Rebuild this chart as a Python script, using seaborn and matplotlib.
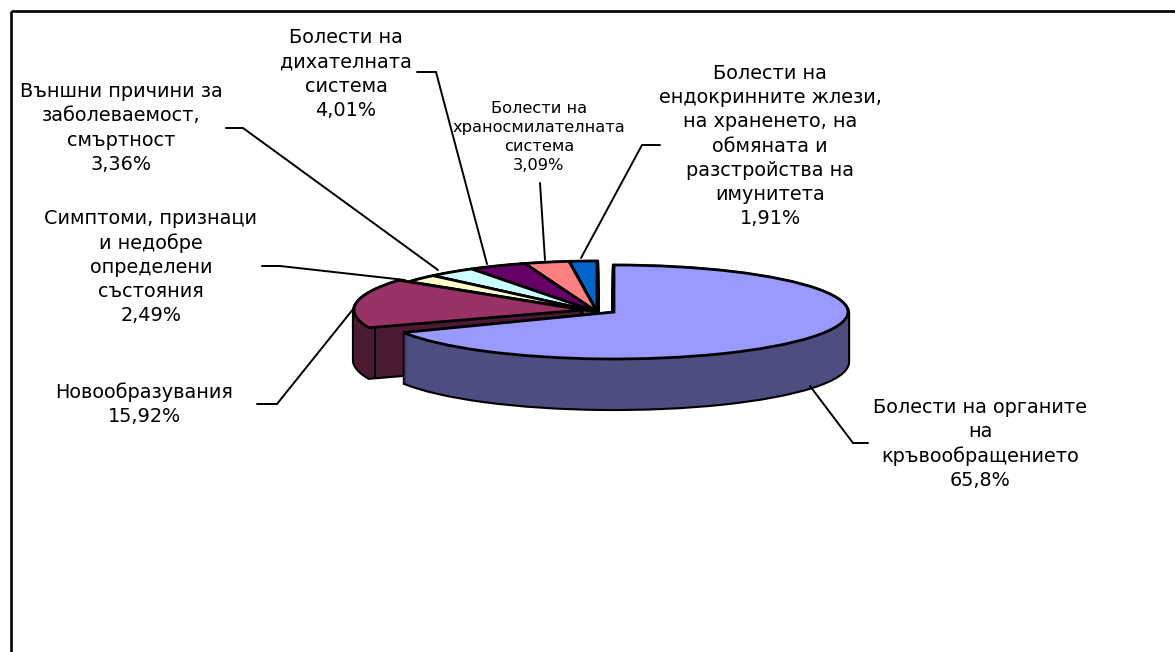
import matplotlib
matplotlib.use("Agg")
import matplotlib.pyplot as plt
from matplotlib.transforms import Affine2D
import seaborn as sns

sns.set_theme(style="white")
plt.rcParams['font.family'] = ['DejaVu Sans']

# Share of each slice as drawn, clockwise from 12 o'clock
categories = ["Болести на органите на кръвообращението", "(други)", "Новообразувания",
              "Симптоми, признаци и недобре определени състояния",
              "Външни причини за заболеваемост, смъртност",
              "Болести на дихателната система", "Болести на храносмилателната система",
              "Болести на ендокринните жлези, на храненето, на обмяната и разстройства на имунитета"]
slice_shares = [67.8, 1.42, 15.92, 2.49, 3.36, 4.01, 3.09, 1.91]
top_colors = ["#9999FF", "#FFFFFF", "#993366", "#FFFFCC", "#CCFFFF", "#660066", "#FF8080", "#0066CC"]
side_colors = ["#4D4D80", "#FFFFFF", "#4D1A33", "#80805F", "#5F8080", "#330033", "#804040", "#003366"]

label_texts = ["Болести на органите\nна\nкръвообращението\n65,8%",
               "Новообразувания\n15,92%",
               "Симптоми, признаци\nи недобре\nопределени\nсъстояния\n2,49%",
               "Външни причини за\nзаболеваемост,\nсмъртност\n3,36%",
               "Болести на\nдихателната\nсистема\n4,01%",
               "Болести на\nхраносмилателната\nсистема\n3,09%",
               "Болести на\nендокринните жлези,\nна храненето, на\nобмяната и\nразстройства на\nимунитета\n1,91%"]

# layout (pixels)
label_pos = [(980, 444), (144, 404), (151, 267), (121, 128), (346, 74), (539, 137), (770, 146)]
label_size = [13.9, 13.9, 13.9, 13.9, 13.9, 11.7, 13.9]
label_spacing = [1.34, 1.34, 1.34, 1.34, 1.34, 1.33, 1.34]
leaders = [[(810, 386), (853, 443), (868, 443)],
           [(354, 308), (277, 404), (257, 404)],
           [(262, 266), (280, 266), (405, 280)],
           [(226, 128), (243, 128), (438, 270)],
           [(417, 72), (436, 72), (487, 264)],
           [(540, 183), (545, 260)],
           [(660, 145), (642, 145), (581, 258)]]
# per-slice ellipse: centre x, centre y, rx, ry
geom = [(614, 312, 234, 47), (597, 312, 234, 51), (583, 310, 229, 50), (597, 312, 234, 51),
        (597, 312, 234, 51), (597, 312, 234, 51), (597, 312, 234, 51), (597, 312, 234, 51)]
paint_rank = [7, 0, 6, 5, 4, 3, 2, 1]
depth = 50
EDGE = 2.0

fig = plt.figure(figsize=(11.75, 6.52), dpi=100)
ax = fig.add_axes([0, 0, 1, 1])


def layer(colors, dy, lw, pass_no):
    wedges, _ = ax.pie(slice_shares, colors=colors, startangle=90, counterclock=False,
                       radius=1, wedgeprops=dict(edgecolor="black", linewidth=lw))
    for i, w in enumerate(wedges):
        cx, cy, rx, ry = geom[i]
        w.set_transform(Affine2D().scale(rx, -ry).translate(cx, cy + dy) + ax.transData)
        w.set_zorder(1 + paint_rank[i] * 3 + pass_no * 0.5)
        if categories[i] == "(други)":
            w.set_visible(False)
        if lw == 0:
            w.set_edgecolor("none")


for dy in range(depth, 0, -1):
    layer(["black"] * len(slice_shares), dy, EDGE + 1.0, 0)
for dy in range(depth, 0, -1):
    layer(side_colors, dy, 0, 1)
layer(top_colors, 0, EDGE, 2)

ax.set_aspect("auto")
ax.set_xlim(0, 1175)
ax.set_ylim(652, 0)
ax.axis("off")

# frame of the chart area
ax.plot([11, 11], [652, 11], color="black", lw=1.9, zorder=50, solid_capstyle="butt", clip_on=False)
ax.plot([11, 1175], [11, 11], color="black", lw=1.9, zorder=50, solid_capstyle="butt", clip_on=False)

# corner line on the maroon slice's side
ax.plot([375, 375], [328, 378], color="black", lw=1.5, zorder=1 + 6 * 3 + 0.9)

for pts in leaders:
    ax.plot([p[0] for p in pts], [p[1] for p in pts], color="black", lw=1.4, zorder=40,
            solid_joinstyle="miter")

for txt, (x, y), fs, ls in zip(label_texts, label_pos, label_size, label_spacing):
    ax.text(x, y, txt, ha="center", va="center", fontsize=fs, linespacing=ls,
            color="black", zorder=60)

fig.savefig("out.png", dpi=100, facecolor="white")
